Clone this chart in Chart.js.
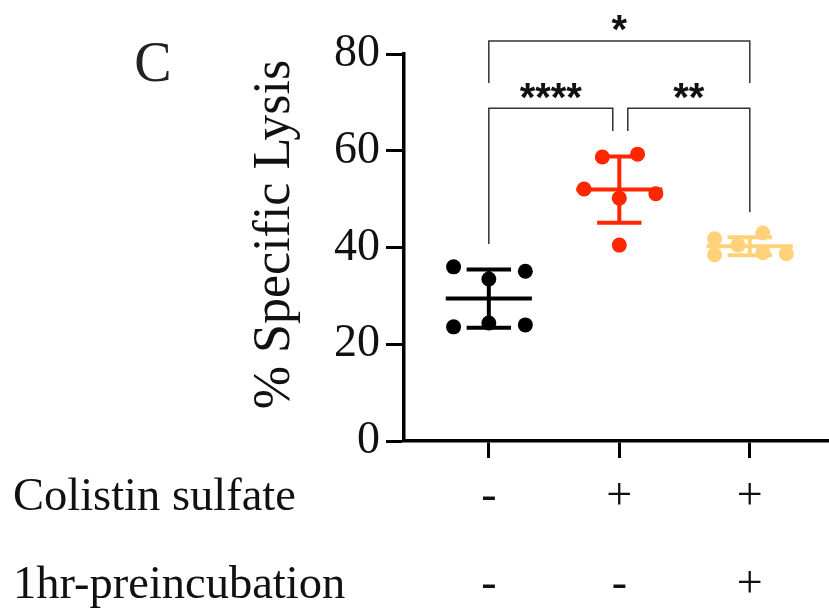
<!DOCTYPE html>
<html>
<head>
<meta charset="utf-8">
<script src="https://cdn.jsdelivr.net/npm/chart.js@4/dist/chart.umd.min.js"></script>
<style>
  html, body { margin: 0; padding: 0; background: #fff; }
  #wrap { width: 829px; height: 615px; }
</style>
</head>
<body>
<div id="wrap"><canvas id="lysis"></canvas></div>
<script>
// groups along the x axis
const groupPositions = [1, 2, 3];
const colistinRow = ['-', '+', '+'];
const preincubationRow = ['-', '-', '+'];
const rowTitles = ['Colistin sulfate', '1hr-preincubation'];
const yTicks = [0, 20, 40, 60, 80];

// % specific lysis, one value per replicate
const controlValues = [36.0, 35.1, 33.5, 23.6, 24.4, 24.0];
const colistinValues = [58.7, 59.3, 52.1, 50.2, 51.1, 40.5];
const preincValues = [41.8, 38.5, 40.5, 43.0, 38.9, 38.7];

// horizontal spread of the replicates (group units)
const controlJitter = [-0.27, 0.28, 0, -0.27, 0, 0.28];
const colistinJitter = [-0.13, 0.14, -0.27, 0, 0.28, 0];
const preincJitter = [-0.27, -0.27, -0.09, 0.1, 0.1, 0.28];

// significance brackets: from group, to group, label
const comparisons = [
    [1, 3, '*'],
    [1, 2, '****'],
    [2, 3, '**']
];

const groupColors = ['#000000', '#FF2600', '#FFD27A'];

const toPoints = (vals, jit, g) => vals.map((v, i) => ({ x: g + jit[i], y: v }));
const mean = a => a.reduce((s, v) => s + v, 0) / a.length;
const sd = a => {
    const m = mean(a);
    return Math.sqrt(a.reduce((s, v) => s + (v - m) * (v - m), 0) / (a.length - 1));
};

const serif = 'Liberation Serif';

// mean line + SD whiskers under the points
const errorBars = {
    id: 'errorBars',
    beforeDatasetsDraw(chart) {
        const { ctx, scales: { x, y } } = chart;
        chart.data.datasets.forEach((ds, i) => {
            const vals = ds.data.map(p => p.y);
            const m = mean(vals), s = sd(vals);
            const g = groupPositions[i];
            const seg = (x1, y1, x2, y2) => {
                ctx.beginPath();
                ctx.moveTo(x.getPixelForValue(x1), y.getPixelForValue(y1));
                ctx.lineTo(x.getPixelForValue(x2), y.getPixelForValue(y2));
                ctx.stroke();
            };
            ctx.save();
            ctx.strokeStyle = ds.backgroundColor;
            ctx.lineWidth = 4;
            seg(g - 0.33, m, g + 0.33, m);
            seg(g, m - s, g, m + s);
            seg(g - 0.17, m + s, g + 0.17, m + s);
            seg(g - 0.17, m - s, g + 0.17, m - s);
            ctx.restore();
        });
    }
};

// brackets, stars, panel letter, row titles
const annotations = {
    id: 'annotations',
    afterDraw(chart) {
        const { ctx, scales: { x, y } } = chart;
        // bracket heights: [top, left leg end, right leg end, star centre] in y units
        const levels = [
            [82.7, 74.0, 74.0, 87.0, 0, 0],
            [68.8, 40.7, 64.1, 73.0, 0, -0.05],
            [68.8, 64.1, 47.3, 73.0, 0.065, 0]
        ];
        ctx.save();
        ctx.strokeStyle = '#333';
        ctx.lineWidth = 1.5;
        comparisons.forEach((c, i) => {
            const [top, l, r, star, dl, dr] = levels[i];
            const x1 = x.getPixelForValue(c[0] + dl);
            const x2 = x.getPixelForValue(c[1] + dr);
            ctx.beginPath();
            ctx.moveTo(x1, y.getPixelForValue(l));
            ctx.lineTo(x1, y.getPixelForValue(top));
            ctx.lineTo(x2, y.getPixelForValue(top));
            ctx.lineTo(x2, y.getPixelForValue(r));
            ctx.stroke();
            ctx.fillStyle = '#111';
            ctx.font = 'bold 40px "Liberation Sans"';
            ctx.textAlign = 'center';
            ctx.textBaseline = 'alphabetic';
            ctx.fillText(c[2], (x1 + x2) / 2, y.getPixelForValue(star) + 0.57 * 40);
        });

        ctx.fillStyle = '#222';
        ctx.font = '56px "' + serif + '"';
        ctx.textAlign = 'center';
        ctx.fillText('C', 153, 81);

        ctx.fillStyle = '#111';
        ctx.font = '46.5px "' + serif + '"';
        ctx.textAlign = 'left';
        rowTitles.forEach((t, i) => {
            ctx.fillText(t, 13, x.top + 69 + i * 88);
        });
        ctx.restore();
    }
};

new Chart(document.getElementById('lysis'), {
    type: 'scatter',
    data: {
        datasets: [
            { label: 'Control', data: toPoints(controlValues, controlJitter, 1), backgroundColor: groupColors[0] },
            { label: 'Colistin', data: toPoints(colistinValues, colistinJitter, 2), backgroundColor: groupColors[1] },
            { label: 'Colistin + preincubation', data: toPoints(preincValues, preincJitter, 3), backgroundColor: groupColors[2] }
        ]
    },
    options: {
        responsive: true,
        maintainAspectRatio: false,
        animation: false,
        layout: { autoPadding: false, padding: { left: 240, right: 0, top: 54, bottom: 0 } },
        elements: { point: { radius: 7.5, borderWidth: 0, hoverRadius: 7.5 } },
        plugins: { legend: { display: false }, tooltip: { enabled: false } },
        scales: {
            x: {
                type: 'linear',
                min: 0.35,
                max: 3.607,
                afterBuildTicks: axis => { axis.ticks = groupPositions.map(v => ({ value: v })); },
                afterFit: axis => { axis.height = 174; },
                grid: { drawOnChartArea: false, drawTicks: true, tickLength: 17, tickWidth: 3, tickColor: '#000' },
                border: { display: true, width: 3.5, color: '#000' },
                ticks: {
                    autoSkip: false,
                    maxRotation: 0,
                    padding: -5,
                    color: '#111',
                    font: { family: serif, size: 46, lineHeight: '88px' },
                    callback: v => {
                        const i = groupPositions.indexOf(v);
                        return [colistinRow[i], preincubationRow[i]];
                    }
                }
            },
            y: {
                min: 0,
                max: 80,
                afterBuildTicks: axis => { axis.ticks = yTicks.map(v => ({ value: v })); },
                afterFit: axis => { axis.width = 164; },
                grid: { drawOnChartArea: false, drawTicks: true, tickLength: 18, tickWidth: 3, tickColor: '#000' },
                border: { display: true, width: 3.5, color: '#000' },
                ticks: {
                    padding: 6,
                    color: '#111',
                    font: { family: serif, size: 46 }
                },
                title: {
                    display: true,
                    text: '  % Specific Lysis',
                    color: '#111',
                    font: { family: serif, size: 52 },
                    padding: { top: 4, bottom: 0 }
                }
            }
        }
    },
    plugins: [errorBars, annotations]
});
</script>
</body>
</html>
